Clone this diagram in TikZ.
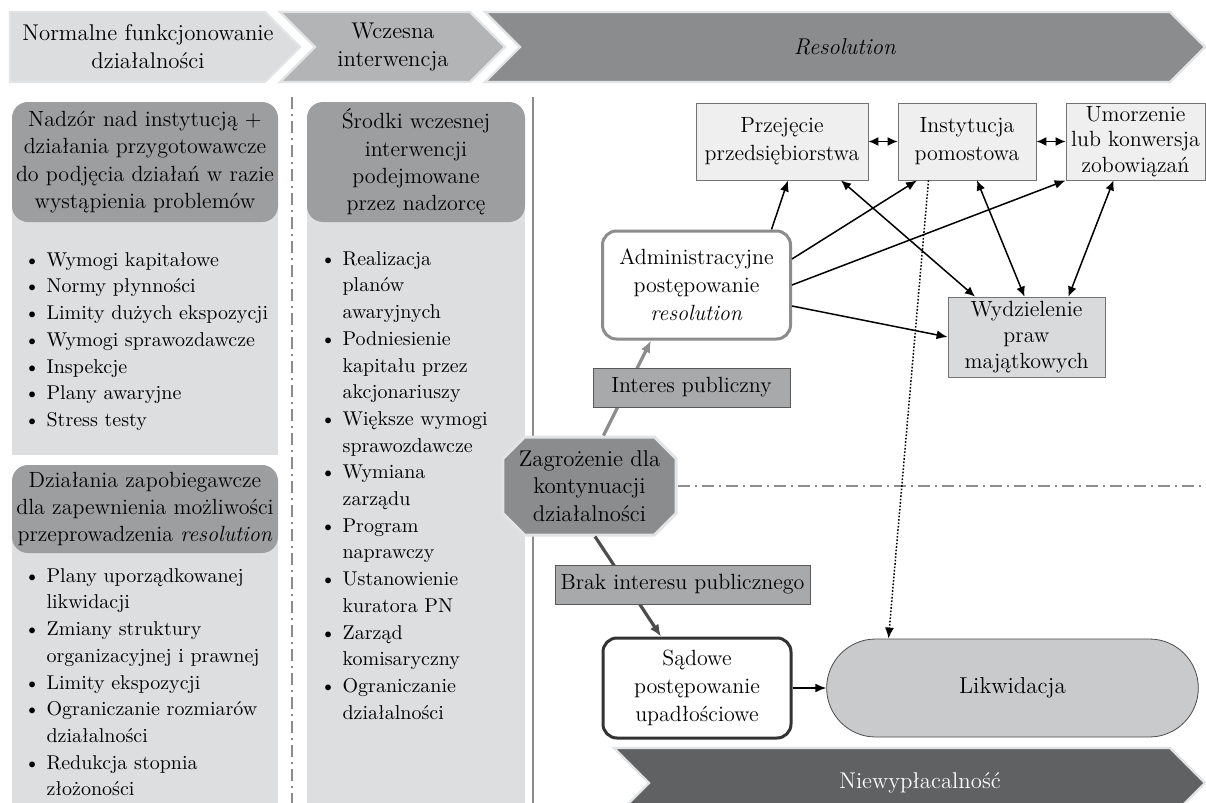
\documentclass[tikz,border=0pt]{standalone}
\usepackage{fontspec}
\usepackage{tikz}
\usetikzlibrary{positioning, arrows.meta, shapes.misc}

\definecolor{bandA}{HTML}{DCDDDF}
\definecolor{bandB}{HTML}{B3B4B6}
\definecolor{bandC}{HTML}{8B8C8E}
\definecolor{bandrim}{HTML}{E2E3E4}
\definecolor{panelgray}{HTML}{DDDEE0}
\definecolor{headgray}{HTML}{9D9EA0}
\definecolor{condgray}{HTML}{A8A9AB}
\definecolor{optgray}{HTML}{EFEFEF}
\definecolor{splitgray}{HTML}{D9DADC}
\definecolor{liqgray}{HTML}{C9CACC}
\definecolor{insolv}{HTML}{606163}
\definecolor{linegray}{HTML}{8C8C8C}

\newcommand{\itemdot}{\textbullet\ }
\newcommand{\itemgap}{\phantom{\textbullet\ }}

\tikzset{
  band/.style={fill=#1, draw=bandrim, line width=1.2pt},
  bandtext/.style={align=center, font=\fontsize{11.4}{14}\selectfont, text=black},
  header/.style={fill=headgray, rounded corners=8pt, align=center, inner sep=0pt,
    font=\fontsize{11}{13.6}\selectfont},
  bullets/.style={align=left, anchor=north west, inner sep=0pt,
    font=\fontsize{10}{13.35}\selectfont},
  option/.style={draw=black!55, fill=optgray, align=center, inner sep=0pt,
    minimum height=38.5pt, font=\fontsize{11}{14}\selectfont},
  proc/.style={fill=white, rounded corners=7pt, align=center, inner sep=0pt,
    minimum width=94pt, minimum height=54pt, font=\fontsize{11}{14}\selectfont},
  cond/.style={draw=black!65, fill=condgray, inner sep=0pt, minimum height=19.5pt,
    font=\fontsize{11}{14}\selectfont},
  link/.style={-{Latex[length=5.5pt,width=4.5pt]}, line width=0.75pt},
  twoway/.style={{Latex[length=5pt,width=4.5pt]}-{Latex[length=5pt,width=4.5pt]}, line width=0.75pt},
  rule/.style={linegray, line width=0.7pt, dash pattern=on 6pt off 2.5pt on 1pt off 2.5pt},
}

\begin{document}
\begin{tikzpicture}[x=0.5pt, y=-0.5pt]
  \useasboundingbox (0,0) rectangle (1206,803);

  % Phase banner
  \filldraw[band=bandA] (10,12) -- (265,12) -- (300,47) -- (265,82) -- (10,82) -- cycle;
  \filldraw[band=bandB] (280,12) -- (470,12) -- (505,47) -- (470,82) -- (280,82) -- (315,47) -- cycle;
  \filldraw[band=bandC] (485,12) -- (1170,12) -- (1205,47) -- (1170,82) -- (485,82) -- (520,47) -- cycle;
  \node[bandtext] (normal) at (148,47) {Normalne funkcjonowanie\\działalności};
  \node[bandtext] (early) at (393,47) {Wczesna\\interwencja};
  \node[bandtext] (resol) at (845,47) {\textit{Resolution}};

  % Panels and column rules
  \fill[panelgray] (12,165) rectangle (278,455);
  \fill[panelgray] (12,505) rectangle (278,803);
  \fill[panelgray] (307,165) rectangle (525,803);
  \draw[rule] (292,97) -- (292,803);
  \draw[linegray, line width=1.2pt] (533,97) -- (533,803);

  % Column headers
  \node[header, minimum width=133pt, minimum height=60pt] (supervision) at (145,162)
    {Nadzór nad instytucją +\\działania przygotowawcze\\do podjęcia działań w razie\\wystąpienia problemów};
  \node[header, minimum width=109pt, minimum height=60pt] (measures) at (416,162)
    {Środki wczesnej\\interwencji\\podejmowane\\przez nadzorcę};
  \node[header, minimum width=133pt, minimum height=44pt] (prevention) at (145,509)
    {Działania zapobiegawcze\\dla zapewnienia możliwości\\przeprowadzenia \textit{resolution}};

  % Lists
  \node[bullets] (prudential) at (24,252) {\itemdot Wymogi kapitałowe\\\itemdot Normy płynności\\
    \itemdot Limity dużych ekspozycji\\\itemdot Wymogi sprawozdawcze\\\itemdot Inspekcje\\
    \itemdot Plany awaryjne\\\itemdot Stress testy};
  \node[bullets] (powers) at (320,251) {\itemdot Realizacja\\\itemgap planów\\\itemgap awaryjnych\\
    \itemdot Podniesienie\\\itemgap kapitału przez\\\itemgap akcjonariuszy\\
    \itemdot Większe wymogi\\\itemgap sprawozdawcze\\\itemdot Wymiana\\\itemgap zarządu\\
    \itemdot Program\\\itemgap naprawczy\\\itemdot Ustanowienie\\\itemgap kuratora PN\\
    \itemdot Zarząd\\\itemgap komisaryczny\\\itemdot Ograniczanie\\\itemgap działalności};
  \node[bullets] (resolvability) at (24,568) {\itemdot Plany uporządkowanej\\\itemgap likwidacji\\
    \itemdot Zmiany struktury\\\itemgap organizacyjnej i prawnej\\\itemdot Limity ekspozycji\\
    \itemdot Ograniczanie rozmiarów\\\itemgap działalności\\\itemdot Redukcja stopnia\\\itemgap złożoności};

  % Resolution tools
  \node[option, minimum width=86pt] (takeover) at (782,141.5) {Przejęcie\\przedsiębiorstwa};
  \node[option, minimum width=69pt] (bridge) at (967,141.5) {Instytucja\\pomostowa};
  \node[option, minimum width=69.5pt, font=\fontsize{11}{12.8}\selectfont] (bailin) at (1135.5,141.5)
    {Umorzenie\\lub konwersja\\zobowiązań};
  \node[option, fill=splitgray, minimum width=78.5pt, minimum height=40pt,
    font=\fontsize{11}{13}\selectfont] (transfer) at (1026.5,337) {Wydzielenie\\praw\\majątkowych};

  % Procedures
  \node[proc, draw=linegray, line width=1.5pt] (admin) at (696.5,285)
    {Administracyjne\\postępowanie\\\textit{resolution}};
  \node[chamfered rectangle, chamfered rectangle xsep=8pt, fill=bandC, draw=bandrim,
    line width=1.5pt, minimum width=82.5pt, minimum height=49pt, align=center, inner sep=0pt,
    font=\fontsize{11.4}{13.75}\selectfont] (threat) at (589.5,486)
    {Zagrożenie dla\\kontynuacji\\działalności};
  \node[proc, draw=black!80, line width=1.5pt, minimum height=50pt] (court) at (697,688)
    {Sądowe\\postępowanie\\upadłościowe};
  \node[rounded rectangle, draw=black!70, fill=liqgray, minimum width=192.5pt,
    minimum height=49pt, font=\fontsize{11.5}{14}\selectfont] (liquid) at (1012.5,688) {Likwidacja};

  % Connect the nodes
  \coordinate (rimE) at (1206,486);
  \draw[rule] (threat.east) -- (rimE);
  \draw[-{Latex[length=6pt,width=5pt]}, linegray, line width=1.6pt] ([xshift=7pt]threat.north) -- ([xshift=-22.75pt]admin.south);
  \draw[-{Latex[length=6pt,width=5pt]}, black!70, line width=1.6pt] ([xshift=2.75pt]threat.south) -- ([xshift=-18pt]court.north);
  \draw[link] ([xshift=37.5pt]admin.north) -- ([xshift=3pt]takeover.south);
  \draw[link] ([yshift=13pt]admin.east) -- ([xshift=-25pt]bridge.south);
  \draw[link] (admin.east) -- (bailin.south west);
  \draw[link] ([yshift=-10.5pt]admin.east) -- (transfer.west);
  \draw[twoway] ([xshift=29.5pt]takeover.south) -- ([xshift=-25.75pt]transfer.north);
  \draw[twoway] ([xshift=5pt]bridge.south) -- ([xshift=-1pt]transfer.north);
  \draw[twoway] ([xshift=-11pt]bailin.south) -- ([xshift=21pt]transfer.north);
  \draw[twoway] (takeover.east) -- (bridge.west);
  \draw[twoway] (bridge.east) -- (bailin.west);
  \draw[link, dash pattern=on 0.8pt off 0.9pt] ([xshift=-19.25pt]bridge.south) -- ([xshift=-62pt]liquid.north);
  \draw[link] (court.east) -- (liquid.west);

  % Conditions
  \node[cond, minimum width=98.5pt] (public) at (691.5,387.5) {Interes publiczny};
  \node[cond, minimum width=127.5pt] (nopublic) at (682.5,584.5) {Brak interesu publicznego};

  % Insolvency band
  \filldraw[fill=insolv, draw=bandrim, line width=1.2pt] (614,748) -- (1170,748) -- (1205,783) -- (1170,818) -- (614,818) -- (649,783) -- cycle;
  \node[text=white, font=\fontsize{11.4}{14}\selectfont] (insolvency) at (920,783) {Niewypłacalność};
\end{tikzpicture}
\end{document}
